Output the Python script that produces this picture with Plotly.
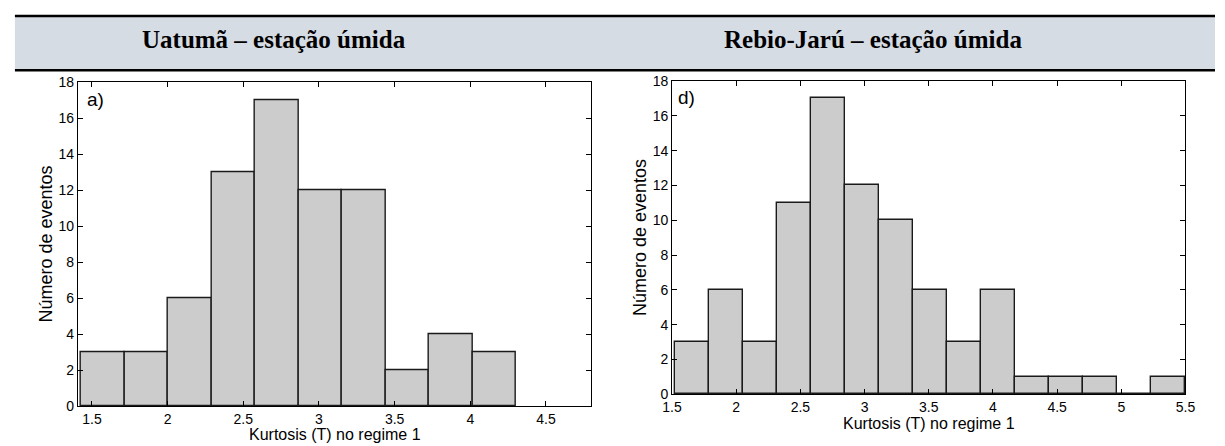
import plotly.graph_objects as go

# ---------------- data ----------------
titles = ["Uatumã – estação úmida", "Rebio-Jarú – estação úmida"]
panel_labels = ["a)", "d)"]
x_title = "Kurtosis (T) no regime 1"
y_title = "Número de eventos"

# Uatumã (panel a) – histogram bin edges and counts
edges_a = [1.429, 1.716, 2.003, 2.291, 2.578, 2.866, 3.153, 3.440, 3.727, 4.015, 4.303]
counts_a = [3, 3, 6, 13, 17, 12, 12, 2, 4, 3]

# Rebio-Jarú (panel d) – histogram bin edges and counts
edges_d = [1.527, 1.791, 2.055, 2.320, 2.584, 2.849, 3.113, 3.378, 3.642, 3.906,
           4.171, 4.435, 4.700, 4.964, 5.229, 5.496]
counts_d = [3, 6, 3, 11, 17, 12, 10, 6, 3, 6, 1, 1, 1, 0, 1]

xticks_a = [1.5, 2, 2.5, 3, 3.5, 4, 4.5]
xticks_d = [1.5, 2, 2.5, 3, 3.5, 4, 4.5, 5, 5.5]
yticks = [0, 2, 4, 6, 8, 10, 12, 14, 16, 18]

# ---------------- figure ----------------
W, H = 1225, 446
def px_x(p): return p / W
def px_y(p): return 1 - p / H

fig = go.Figure()

def add_hist(edges, counts, xa, ya):
    mids = [(edges[i] + edges[i + 1]) / 2 for i in range(len(counts))]
    widths = [edges[i + 1] - edges[i] for i in range(len(counts))]
    fig.add_trace(go.Bar(
        x=mids, y=counts, width=widths, xaxis=xa, yaxis=ya,
        marker=dict(color="#cccccc", line=dict(color="#1a1a1a", width=1.4)),
        showlegend=False, hoverinfo="x+y"))

add_hist(edges_a, counts_a, "x", "y")
add_hist(edges_d, counts_d, "x2", "y2")

font_family = "Arial, Liberation Sans, sans-serif"
axis_common = dict(showline=True, linecolor="black", linewidth=1, mirror="ticks",
                   ticks="inside", ticklen=5, tickcolor="black", tickwidth=1,
                   showgrid=False, zeroline=False,
                   tickfont=dict(family=font_family, size=14, color="black"))

fig.update_layout(
    width=W, height=H,
    margin=dict(l=0, r=0, t=0, b=0),
    paper_bgcolor="white", plot_bgcolor="white",
    bargap=0,
    xaxis=dict(domain=[px_x(69), px_x(591)], range=[1.407, 4.8], anchor="y",
               tickvals=xticks_a, ticktext=[f"{v:g}" for v in xticks_a], **axis_common),
    yaxis=dict(domain=[px_y(413), px_y(77)], range=[0, 18], anchor="x",
               tickvals=yticks, **axis_common),
    xaxis2=dict(domain=[px_x(673), px_x(1195)], range=[1.5, 5.5], anchor="y2",
                tickvals=xticks_d, ticktext=[f"{v:g}" for v in xticks_d], **axis_common),
    yaxis2=dict(domain=[px_y(400.7), px_y(75.7)], range=[0, 18], anchor="x2",
                tickvals=yticks, **axis_common),
)

# header band
fig.add_shape(type="rect", xref="paper", yref="paper",
              x0=px_x(5), x1=1, y0=px_y(64), y1=px_y(9),
              fillcolor="#d6dce4", line=dict(width=0), layer="below")
for yy in (8.3, 64.5):
    fig.add_shape(type="line", xref="paper", yref="paper",
                  x0=px_x(5), x1=1, y0=px_y(yy), y1=px_y(yy),
                  line=dict(color="black", width=2.5))

# header titles
for txt, cx in zip(titles, (268, 877)):
    fig.add_annotation(text=f"<b>{txt}</b>", xref="paper", yref="paper",
                       x=px_x(cx), y=px_y(33), showarrow=False,
                       xanchor="center", yanchor="middle",
                       font=dict(family="Liberation Serif, Times New Roman, serif",
                                 size=25, color="black"))

# axis titles
for cx, cy in ((330, 442), (934, 431)):
    fig.add_annotation(text=x_title, xref="paper", yref="paper",
                       x=px_x(cx), y=px_y(cy), showarrow=False,
                       xanchor="center", yanchor="middle", borderpad=0,
                       font=dict(family=font_family, size=16, color="black"))
for cx, cy in ((37, 245), (641, 238)):
    fig.add_annotation(text=y_title, xref="paper", yref="paper",
                       x=px_x(cx), y=px_y(cy), showarrow=False, textangle=-90,
                       xanchor="center", yanchor="middle",
                       font=dict(family=font_family, size=18, color="black"))

# panel labels
for lab, cx, cy in zip(panel_labels, (76, 677), (95, 93)):
    fig.add_annotation(text=lab, xref="paper", yref="paper",
                       x=px_x(cx), y=px_y(cy), showarrow=False,
                       xanchor="left", yanchor="middle",
                       font=dict(family=font_family, size=19, color="black"))

fig.write_html("out.html")
